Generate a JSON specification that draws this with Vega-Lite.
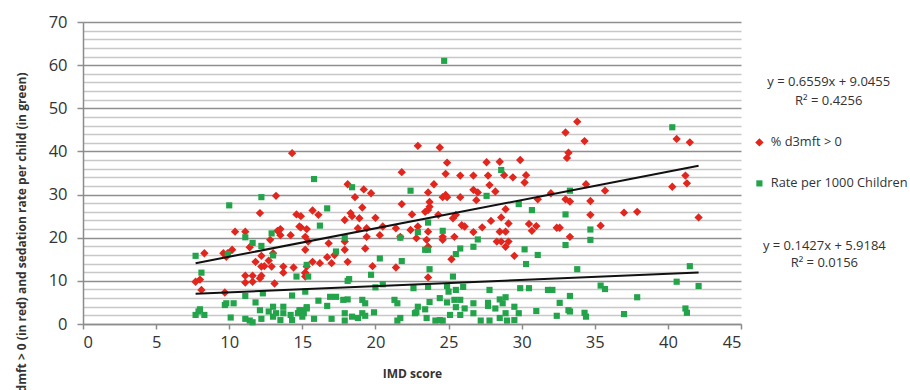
{
  "$schema": "https://vega.github.io/schema/vega-lite/v6.json",
  "width": 658,
  "height": 302,
  "autosize": "none",
  "padding": {"left": 83, "top": 22, "right": 169, "bottom": 66},
  "background": "white",
  "config": {"font": "Open Sans", "view": {"stroke": null}},
  "datasets": {
    "trend": [
      {"imd": 7.7, "value": 14.1, "series": "% d3mft > 0"},
      {"imd": 42.1, "value": 36.66, "series": "% d3mft > 0"},
      {"imd": 7.7, "value": 7.02, "series": "Rate per 1000 Children"},
      {"imd": 42.1, "value": 11.93, "series": "Rate per 1000 Children"}
    ],
    "pts": [
      {"imd":14.3,"value":39.6,"series":"% d3mft > 0"},{"imd":13.2,"value":29.7,"series":"% d3mft > 0"},{"imd":12.1,"value":25.7,"series":"% d3mft > 0"},{"imd":14.6,"value":25.4,"series":"% d3mft > 0"},{"imd":14.9,"value":25.0,"series":"% d3mft > 0"},{"imd":10.4,"value":21.4,"series":"% d3mft > 0"},{"imd":11.1,"value":21.4,"series":"% d3mft > 0"},{"imd":13.5,"value":22.0,"series":"% d3mft > 0"},{"imd":13.3,"value":21.6,"series":"% d3mft > 0"},{"imd":13.5,"value":20.6,"series":"% d3mft > 0"},{"imd":12.8,"value":19.5,"series":"% d3mft > 0"},{"imd":11.4,"value":17.8,"series":"% d3mft > 0"},{"imd":14.2,"value":20.6,"series":"% d3mft > 0"},{"imd":14.9,"value":22.4,"series":"% d3mft > 0"},{"imd":15.3,"value":22.0,"series":"% d3mft > 0"},{"imd":15.2,"value":17.2,"series":"% d3mft > 0"},{"imd":8.3,"value":16.4,"series":"% d3mft > 0"},{"imd":9.6,"value":16.4,"series":"% d3mft > 0"},{"imd":9.9,"value":16.4,"series":"% d3mft > 0"},{"imd":10.2,"value":17.2,"series":"% d3mft > 0"},{"imd":9.8,"value":15.6,"series":"% d3mft > 0"},{"imd":12.2,"value":15.8,"series":"% d3mft > 0"},{"imd":13.0,"value":16.4,"series":"% d3mft > 0"},{"imd":11.8,"value":14.4,"series":"% d3mft > 0"},{"imd":12.2,"value":13.3,"series":"% d3mft > 0"},{"imd":12.4,"value":13.4,"series":"% d3mft > 0"},{"imd":12.9,"value":13.3,"series":"% d3mft > 0"},{"imd":12.7,"value":14.7,"series":"% d3mft > 0"},{"imd":13.7,"value":13.3,"series":"% d3mft > 0"},{"imd":13.7,"value":11.9,"series":"% d3mft > 0"},{"imd":14.4,"value":13.1,"series":"% d3mft > 0"},{"imd":15.2,"value":11.8,"series":"% d3mft > 0"},{"imd":11.1,"value":11.2,"series":"% d3mft > 0"},{"imd":11.6,"value":11.2,"series":"% d3mft > 0"},{"imd":12.2,"value":11.2,"series":"% d3mft > 0"},{"imd":12.1,"value":10.6,"series":"% d3mft > 0"},{"imd":7.7,"value":9.8,"series":"% d3mft > 0"},{"imd":8.0,"value":10.3,"series":"% d3mft > 0"},{"imd":11.1,"value":9.6,"series":"% d3mft > 0"},{"imd":11.6,"value":9.8,"series":"% d3mft > 0"},{"imd":13.1,"value":9.4,"series":"% d3mft > 0"},{"imd":8.1,"value":7.9,"series":"% d3mft > 0"},{"imd":9.7,"value":7.3,"series":"% d3mft > 0"},
      {"imd":22.9,"value":41.3,"series":"% d3mft > 0"},{"imd":24.4,"value":40.9,"series":"% d3mft > 0"},{"imd":24.9,"value":37.4,"series":"% d3mft > 0"},{"imd":27.6,"value":37.5,"series":"% d3mft > 0"},{"imd":28.5,"value":37.6,"series":"% d3mft > 0"},{"imd":29.9,"value":38.0,"series":"% d3mft > 0"},{"imd":21.8,"value":35.2,"series":"% d3mft > 0"},{"imd":24.8,"value":34.8,"series":"% d3mft > 0"},{"imd":25.8,"value":34.4,"series":"% d3mft > 0"},{"imd":26.7,"value":34.4,"series":"% d3mft > 0"},{"imd":27.7,"value":34.4,"series":"% d3mft > 0"},{"imd":28.8,"value":34.5,"series":"% d3mft > 0"},{"imd":29.4,"value":34.0,"series":"% d3mft > 0"},{"imd":30.3,"value":34.5,"series":"% d3mft > 0"},{"imd":18.1,"value":32.4,"series":"% d3mft > 0"},{"imd":24.0,"value":32.4,"series":"% d3mft > 0"},{"imd":19.2,"value":31.2,"series":"% d3mft > 0"},{"imd":19.7,"value":30.3,"series":"% d3mft > 0"},{"imd":18.6,"value":29.4,"series":"% d3mft > 0"},{"imd":23.6,"value":30.5,"series":"% d3mft > 0"},{"imd":24.8,"value":29.9,"series":"% d3mft > 0"},{"imd":24.6,"value":29.4,"series":"% d3mft > 0"},{"imd":24.9,"value":29.4,"series":"% d3mft > 0"},{"imd":25.8,"value":29.4,"series":"% d3mft > 0"},{"imd":26.7,"value":31.1,"series":"% d3mft > 0"},{"imd":27.0,"value":30.5,"series":"% d3mft > 0"},{"imd":26.9,"value":28.7,"series":"% d3mft > 0"},{"imd":27.8,"value":32.2,"series":"% d3mft > 0"},{"imd":28.2,"value":30.7,"series":"% d3mft > 0"},{"imd":21.8,"value":27.8,"series":"% d3mft > 0"},{"imd":23.7,"value":28.3,"series":"% d3mft > 0"},{"imd":23.7,"value":27.2,"series":"% d3mft > 0"},{"imd":23.6,"value":26.4,"series":"% d3mft > 0"},{"imd":19.1,"value":27.0,"series":"% d3mft > 0"},{"imd":15.7,"value":26.3,"series":"% d3mft > 0"},{"imd":16.1,"value":25.3,"series":"% d3mft > 0"},{"imd":18.3,"value":25.7,"series":"% d3mft > 0"},{"imd":18.4,"value":25.0,"series":"% d3mft > 0"},{"imd":17.9,"value":24.1,"series":"% d3mft > 0"},{"imd":18.9,"value":24.5,"series":"% d3mft > 0"},{"imd":20.0,"value":24.6,"series":"% d3mft > 0"},{"imd":28.9,"value":26.6,"series":"% d3mft > 0"},{"imd":28.6,"value":24.7,"series":"% d3mft > 0"},{"imd":27.9,"value":23.9,"series":"% d3mft > 0"},{"imd":29.1,"value":23.3,"series":"% d3mft > 0"},{"imd":22.5,"value":25.4,"series":"% d3mft > 0"},{"imd":23.4,"value":26.0,"series":"% d3mft > 0"},{"imd":24.3,"value":25.3,"series":"% d3mft > 0"},{"imd":25.3,"value":24.5,"series":"% d3mft > 0"},{"imd":25.5,"value":25.3,"series":"% d3mft > 0"},{"imd":14.8,"value":22.6,"series":"% d3mft > 0"},{"imd":18.8,"value":22.2,"series":"% d3mft > 0"},{"imd":19.4,"value":22.2,"series":"% d3mft > 0"},{"imd":20.5,"value":22.6,"series":"% d3mft > 0"},{"imd":21.4,"value":22.2,"series":"% d3mft > 0"},{"imd":22.4,"value":21.8,"series":"% d3mft > 0"},{"imd":22.9,"value":22.6,"series":"% d3mft > 0"},{"imd":23.6,"value":21.4,"series":"% d3mft > 0"},{"imd":24.6,"value":20.2,"series":"% d3mft > 0"},{"imd":24.6,"value":19.5,"series":"% d3mft > 0"},{"imd":25.4,"value":20.2,"series":"% d3mft > 0"},{"imd":25.9,"value":22.9,"series":"% d3mft > 0"},{"imd":26.1,"value":22.6,"series":"% d3mft > 0"},{"imd":26.7,"value":21.3,"series":"% d3mft > 0"},{"imd":27.3,"value":22.4,"series":"% d3mft > 0"},{"imd":28.5,"value":21.4,"series":"% d3mft > 0"},{"imd":28.9,"value":21.4,"series":"% d3mft > 0"},{"imd":28.3,"value":19.1,"series":"% d3mft > 0"},{"imd":28.6,"value":19.1,"series":"% d3mft > 0"},{"imd":29.1,"value":19.1,"series":"% d3mft > 0"},{"imd":28.9,"value":17.9,"series":"% d3mft > 0"},{"imd":30.5,"value":23.2,"series":"% d3mft > 0"},{"imd":31.0,"value":22.7,"series":"% d3mft > 0"},{"imd":30.7,"value":21.6,"series":"% d3mft > 0"},{"imd":15.2,"value":20.2,"series":"% d3mft > 0"},{"imd":16.8,"value":18.7,"series":"% d3mft > 0"},{"imd":15.4,"value":19.1,"series":"% d3mft > 0"},{"imd":17.9,"value":19.1,"series":"% d3mft > 0"},{"imd":19.3,"value":17.5,"series":"% d3mft > 0"},{"imd":20.3,"value":20.6,"series":"% d3mft > 0"},{"imd":21.7,"value":20.2,"series":"% d3mft > 0"},{"imd":22.8,"value":19.9,"series":"% d3mft > 0"},{"imd":23.5,"value":19.5,"series":"% d3mft > 0"},{"imd":19.4,"value":20.2,"series":"% d3mft > 0"},{"imd":17.9,"value":17.2,"series":"% d3mft > 0"},{"imd":17.2,"value":16.0,"series":"% d3mft > 0"},{"imd":17.0,"value":14.1,"series":"% d3mft > 0"},{"imd":15.7,"value":14.4,"series":"% d3mft > 0"},{"imd":16.2,"value":14.1,"series":"% d3mft > 0"},{"imd":18.1,"value":14.4,"series":"% d3mft > 0"},{"imd":16.7,"value":15.5,"series":"% d3mft > 0"},{"imd":15.3,"value":13.3,"series":"% d3mft > 0"},{"imd":19.8,"value":13.4,"series":"% d3mft > 0"},{"imd":21.4,"value":13.1,"series":"% d3mft > 0"},{"imd":25.2,"value":15.0,"series":"% d3mft > 0"},{"imd":29.5,"value":15.8,"series":"% d3mft > 0"},{"imd":15.2,"value":11.9,"series":"% d3mft > 0"},{"imd":15.2,"value":11.0,"series":"% d3mft > 0"},{"imd":23.6,"value":10.8,"series":"% d3mft > 0"},{"imd":23.6,"value":17.9,"series":"% d3mft > 0"},
      {"imd":33.8,"value":46.9,"series":"% d3mft > 0"},{"imd":33.0,"value":44.4,"series":"% d3mft > 0"},{"imd":34.3,"value":42.4,"series":"% d3mft > 0"},{"imd":33.2,"value":39.7,"series":"% d3mft > 0"},{"imd":33.1,"value":38.5,"series":"% d3mft > 0"},{"imd":40.6,"value":42.9,"series":"% d3mft > 0"},{"imd":41.5,"value":42.1,"series":"% d3mft > 0"},{"imd":30.2,"value":32.8,"series":"% d3mft > 0"},{"imd":41.2,"value":34.4,"series":"% d3mft > 0"},{"imd":41.3,"value":32.6,"series":"% d3mft > 0"},{"imd":40.3,"value":31.8,"series":"% d3mft > 0"},{"imd":34.4,"value":32.4,"series":"% d3mft > 0"},{"imd":35.7,"value":30.9,"series":"% d3mft > 0"},{"imd":32.0,"value":30.3,"series":"% d3mft > 0"},{"imd":31.1,"value":28.9,"series":"% d3mft > 0"},{"imd":33.0,"value":28.9,"series":"% d3mft > 0"},{"imd":33.3,"value":28.4,"series":"% d3mft > 0"},{"imd":34.7,"value":28.5,"series":"% d3mft > 0"},{"imd":34.7,"value":25.3,"series":"% d3mft > 0"},{"imd":37.0,"value":25.8,"series":"% d3mft > 0"},{"imd":37.9,"value":26.0,"series":"% d3mft > 0"},{"imd":42.1,"value":24.7,"series":"% d3mft > 0"},{"imd":32.4,"value":22.3,"series":"% d3mft > 0"},{"imd":32.6,"value":22.3,"series":"% d3mft > 0"},{"imd":35.4,"value":22.8,"series":"% d3mft > 0"},{"imd":33.3,"value":20.2,"series":"% d3mft > 0"},
      {"imd":24.7,"value":61.0,"series":"Rate per 1000 Children"},{"imd":12.2,"value":29.4,"series":"Rate per 1000 Children"},{"imd":10.0,"value":27.5,"series":"Rate per 1000 Children"},{"imd":11.1,"value":20.1,"series":"Rate per 1000 Children"},{"imd":11.6,"value":18.8,"series":"Rate per 1000 Children"},{"imd":12.2,"value":18.1,"series":"Rate per 1000 Children"},{"imd":12.9,"value":21.0,"series":"Rate per 1000 Children"},{"imd":13.0,"value":15.9,"series":"Rate per 1000 Children"},{"imd":7.7,"value":15.8,"series":"Rate per 1000 Children"},{"imd":9.9,"value":16.2,"series":"Rate per 1000 Children"},{"imd":8.1,"value":11.9,"series":"Rate per 1000 Children"},{"imd":14.6,"value":11.0,"series":"Rate per 1000 Children"},{"imd":15.3,"value":13.7,"series":"Rate per 1000 Children"},{"imd":11.1,"value":6.5,"series":"Rate per 1000 Children"},{"imd":12.3,"value":7.1,"series":"Rate per 1000 Children"},{"imd":14.3,"value":6.6,"series":"Rate per 1000 Children"},{"imd":15.2,"value":7.5,"series":"Rate per 1000 Children"},{"imd":9.7,"value":4.4,"series":"Rate per 1000 Children"},{"imd":9.8,"value":4.8,"series":"Rate per 1000 Children"},{"imd":10.3,"value":4.8,"series":"Rate per 1000 Children"},{"imd":11.8,"value":5.0,"series":"Rate per 1000 Children"},{"imd":8.0,"value":3.4,"series":"Rate per 1000 Children"},{"imd":7.7,"value":2.1,"series":"Rate per 1000 Children"},{"imd":8.3,"value":2.1,"series":"Rate per 1000 Children"},{"imd":7.9,"value":2.9,"series":"Rate per 1000 Children"},{"imd":10.1,"value":1.5,"series":"Rate per 1000 Children"},{"imd":11.1,"value":1.2,"series":"Rate per 1000 Children"},{"imd":11.4,"value":0.8,"series":"Rate per 1000 Children"},{"imd":11.6,"value":0.4,"series":"Rate per 1000 Children"},{"imd":12.2,"value":1.2,"series":"Rate per 1000 Children"},{"imd":12.1,"value":3.2,"series":"Rate per 1000 Children"},{"imd":12.7,"value":2.9,"series":"Rate per 1000 Children"},{"imd":13.0,"value":4.0,"series":"Rate per 1000 Children"},{"imd":13.2,"value":2.5,"series":"Rate per 1000 Children"},{"imd":13.0,"value":1.7,"series":"Rate per 1000 Children"},{"imd":13.7,"value":4.0,"series":"Rate per 1000 Children"},{"imd":13.7,"value":2.5,"series":"Rate per 1000 Children"},{"imd":13.5,"value":0.9,"series":"Rate per 1000 Children"},{"imd":14.2,"value":2.1,"series":"Rate per 1000 Children"},{"imd":14.3,"value":0.9,"series":"Rate per 1000 Children"},{"imd":14.7,"value":2.5,"series":"Rate per 1000 Children"},{"imd":14.9,"value":3.2,"series":"Rate per 1000 Children"},{"imd":15.3,"value":3.6,"series":"Rate per 1000 Children"},{"imd":15.0,"value":1.7,"series":"Rate per 1000 Children"},
      {"imd":15.8,"value":33.6,"series":"Rate per 1000 Children"},{"imd":18.4,"value":31.7,"series":"Rate per 1000 Children"},{"imd":22.4,"value":30.9,"series":"Rate per 1000 Children"},{"imd":28.6,"value":35.7,"series":"Rate per 1000 Children"},{"imd":27.6,"value":29.7,"series":"Rate per 1000 Children"},{"imd":16.7,"value":26.8,"series":"Rate per 1000 Children"},{"imd":29.8,"value":27.8,"series":"Rate per 1000 Children"},{"imd":30.7,"value":26.4,"series":"Rate per 1000 Children"},{"imd":16.2,"value":22.8,"series":"Rate per 1000 Children"},{"imd":23.6,"value":23.5,"series":"Rate per 1000 Children"},{"imd":24.6,"value":21.6,"series":"Rate per 1000 Children"},{"imd":22.9,"value":21.3,"series":"Rate per 1000 Children"},{"imd":21.7,"value":20.0,"series":"Rate per 1000 Children"},{"imd":17.9,"value":20.0,"series":"Rate per 1000 Children"},{"imd":23.4,"value":17.2,"series":"Rate per 1000 Children"},{"imd":23.6,"value":17.2,"series":"Rate per 1000 Children"},{"imd":25.8,"value":17.5,"series":"Rate per 1000 Children"},{"imd":25.5,"value":16.2,"series":"Rate per 1000 Children"},{"imd":26.7,"value":17.9,"series":"Rate per 1000 Children"},{"imd":27.0,"value":19.6,"series":"Rate per 1000 Children"},{"imd":30.2,"value":17.3,"series":"Rate per 1000 Children"},{"imd":31.1,"value":16.0,"series":"Rate per 1000 Children"},{"imd":30.3,"value":13.9,"series":"Rate per 1000 Children"},{"imd":17.3,"value":16.8,"series":"Rate per 1000 Children"},{"imd":20.3,"value":15.2,"series":"Rate per 1000 Children"},{"imd":21.8,"value":14.6,"series":"Rate per 1000 Children"},{"imd":15.4,"value":11.0,"series":"Rate per 1000 Children"},{"imd":18.1,"value":10.0,"series":"Rate per 1000 Children"},{"imd":18.2,"value":10.4,"series":"Rate per 1000 Children"},{"imd":19.7,"value":11.4,"series":"Rate per 1000 Children"},{"imd":23.7,"value":12.7,"series":"Rate per 1000 Children"},{"imd":25.3,"value":11.0,"series":"Rate per 1000 Children"},{"imd":20.5,"value":9.2,"series":"Rate per 1000 Children"},{"imd":20.0,"value":8.5,"series":"Rate per 1000 Children"},{"imd":22.6,"value":8.3,"series":"Rate per 1000 Children"},{"imd":23.6,"value":8.6,"series":"Rate per 1000 Children"},{"imd":24.9,"value":8.8,"series":"Rate per 1000 Children"},{"imd":26.0,"value":8.6,"series":"Rate per 1000 Children"},{"imd":27.8,"value":7.9,"series":"Rate per 1000 Children"},{"imd":29.9,"value":8.3,"series":"Rate per 1000 Children"},{"imd":30.5,"value":8.3,"series":"Rate per 1000 Children"},{"imd":31.8,"value":7.9,"series":"Rate per 1000 Children"},{"imd":16.1,"value":5.4,"series":"Rate per 1000 Children"},{"imd":16.9,"value":6.3,"series":"Rate per 1000 Children"},{"imd":17.3,"value":6.3,"series":"Rate per 1000 Children"},{"imd":17.8,"value":5.6,"series":"Rate per 1000 Children"},{"imd":18.1,"value":5.7,"series":"Rate per 1000 Children"},{"imd":19.1,"value":5.6,"series":"Rate per 1000 Children"},{"imd":19.3,"value":4.8,"series":"Rate per 1000 Children"},{"imd":21.3,"value":5.6,"series":"Rate per 1000 Children"},{"imd":21.5,"value":4.8,"series":"Rate per 1000 Children"},{"imd":22.9,"value":4.0,"series":"Rate per 1000 Children"},{"imd":23.7,"value":5.1,"series":"Rate per 1000 Children"},{"imd":24.9,"value":5.0,"series":"Rate per 1000 Children"},{"imd":25.4,"value":5.6,"series":"Rate per 1000 Children"},{"imd":25.8,"value":5.6,"series":"Rate per 1000 Children"},{"imd":26.7,"value":4.8,"series":"Rate per 1000 Children"},{"imd":27.7,"value":4.9,"series":"Rate per 1000 Children"},{"imd":28.5,"value":5.7,"series":"Rate per 1000 Children"},{"imd":28.9,"value":6.2,"series":"Rate per 1000 Children"},{"imd":28.7,"value":4.8,"series":"Rate per 1000 Children"},{"imd":29.8,"value":2.5,"series":"Rate per 1000 Children"},{"imd":25.5,"value":3.9,"series":"Rate per 1000 Children"},{"imd":26.1,"value":3.6,"series":"Rate per 1000 Children"},{"imd":14.8,"value":3.2,"series":"Rate per 1000 Children"},{"imd":15.1,"value":2.5,"series":"Rate per 1000 Children"},{"imd":15.3,"value":3.9,"series":"Rate per 1000 Children"},{"imd":15.8,"value":1.2,"series":"Rate per 1000 Children"},{"imd":16.7,"value":4.2,"series":"Rate per 1000 Children"},{"imd":17.0,"value":1.2,"series":"Rate per 1000 Children"},{"imd":17.9,"value":2.5,"series":"Rate per 1000 Children"},{"imd":17.9,"value":0.8,"series":"Rate per 1000 Children"},{"imd":18.4,"value":1.7,"series":"Rate per 1000 Children"},{"imd":18.8,"value":1.4,"series":"Rate per 1000 Children"},{"imd":19.1,"value":2.5,"series":"Rate per 1000 Children"},{"imd":19.9,"value":2.7,"series":"Rate per 1000 Children"},{"imd":21.5,"value":0.8,"series":"Rate per 1000 Children"},{"imd":21.7,"value":1.4,"series":"Rate per 1000 Children"},{"imd":22.7,"value":2.5,"series":"Rate per 1000 Children"},{"imd":23.5,"value":1.4,"series":"Rate per 1000 Children"},{"imd":24.1,"value":0.8,"series":"Rate per 1000 Children"},{"imd":24.4,"value":0.9,"series":"Rate per 1000 Children"},{"imd":24.6,"value":0.8,"series":"Rate per 1000 Children"},{"imd":25.1,"value":2.1,"series":"Rate per 1000 Children"},{"imd":25.8,"value":2.1,"series":"Rate per 1000 Children"},{"imd":26.7,"value":2.5,"series":"Rate per 1000 Children"},{"imd":27.2,"value":0.8,"series":"Rate per 1000 Children"},{"imd":27.8,"value":0.8,"series":"Rate per 1000 Children"},{"imd":28.2,"value":3.6,"series":"Rate per 1000 Children"},{"imd":28.5,"value":1.4,"series":"Rate per 1000 Children"},{"imd":29.0,"value":0.8,"series":"Rate per 1000 Children"},{"imd":29.5,"value":0.9,"series":"Rate per 1000 Children"},{"imd":31.0,"value":3.0,"series":"Rate per 1000 Children"},{"imd":24.4,"value":6.0,"series":"Rate per 1000 Children"},{"imd":25.0,"value":7.5,"series":"Rate per 1000 Children"},{"imd":25.5,"value":7.9,"series":"Rate per 1000 Children"},{"imd":23.4,"value":3.4,"series":"Rate per 1000 Children"},{"imd":22.8,"value":2.7,"series":"Rate per 1000 Children"},{"imd":19.3,"value":1.9,"series":"Rate per 1000 Children"},{"imd":27.7,"value":4.2,"series":"Rate per 1000 Children"},{"imd":29.5,"value":4.0,"series":"Rate per 1000 Children"},{"imd":28.9,"value":2.5,"series":"Rate per 1000 Children"},
      {"imd":33.3,"value":30.9,"series":"Rate per 1000 Children"},{"imd":33.0,"value":25.4,"series":"Rate per 1000 Children"},{"imd":34.7,"value":21.9,"series":"Rate per 1000 Children"},{"imd":34.7,"value":19.5,"series":"Rate per 1000 Children"},{"imd":33.0,"value":18.3,"series":"Rate per 1000 Children"},{"imd":33.8,"value":12.7,"series":"Rate per 1000 Children"},{"imd":41.5,"value":13.4,"series":"Rate per 1000 Children"},{"imd":40.6,"value":9.8,"series":"Rate per 1000 Children"},{"imd":42.1,"value":8.8,"series":"Rate per 1000 Children"},{"imd":35.4,"value":8.9,"series":"Rate per 1000 Children"},{"imd":35.7,"value":8.1,"series":"Rate per 1000 Children"},{"imd":32.1,"value":7.9,"series":"Rate per 1000 Children"},{"imd":33.3,"value":6.5,"series":"Rate per 1000 Children"},{"imd":37.9,"value":6.2,"series":"Rate per 1000 Children"},{"imd":32.6,"value":4.9,"series":"Rate per 1000 Children"},{"imd":33.2,"value":3.2,"series":"Rate per 1000 Children"},{"imd":33.3,"value":2.9,"series":"Rate per 1000 Children"},{"imd":32.4,"value":1.9,"series":"Rate per 1000 Children"},{"imd":34.3,"value":2.6,"series":"Rate per 1000 Children"},{"imd":34.4,"value":1.7,"series":"Rate per 1000 Children"},{"imd":37.0,"value":2.3,"series":"Rate per 1000 Children"},{"imd":41.2,"value":3.6,"series":"Rate per 1000 Children"},{"imd":41.3,"value":2.6,"series":"Rate per 1000 Children"},{"imd":40.3,"value":45.6,"series":"Rate per 1000 Children"}
    ]
  },
  "layer": [
    {
      "data": {"name": "pts"},
      "mark": {"type": "point", "filled": true, "opacity": 1},
      "encoding": {
        "x": {"field": "imd", "type": "quantitative",
          "scale": {"domain": [0, 45], "nice": false, "zero": false},
          "axis": {"title": "IMD score", "values": [0,5,10,15,20,25,30,35,40,45], "tickCount": 100, "format": "d", "grid": false,
            "domainColor": "#8c8c8c", "domainWidth": 1.5, "tickColor": "#8c8c8c", "tickSize": 5, "tickWidth": 1.5,
            "labelFontSize": 16.5, "labelColor": "#333333", "labelPadding": 5, "labelFont": "Open Sans",
            "titleFontSize": 12, "titleFontWeight": "bold", "titleColor": "#333333", "titlePadding": 18}},
        "y": {"field": "value", "type": "quantitative",
          "scale": {"domain": [0, 70], "nice": false},
          "axis": {"title": "% dmft > 0 (in red)  and sedation rate per  child (in green)",
            "values": [0,2,4,6,8,10,12,14,16,18,20,22,24,26,28,30,32,34,36,38,40,42,44,46,48,50,52,54,56,58,60,62,64,66,68,70],
            "tickCount": 100,
            "format": "d",
            "labelExpr": "datum.value % 10 === 0 ? datum.label : ''",
            "labelOverlap": false,
            "grid": true,
            "gridColor": {"condition": {"test": "datum.value % 10 === 0", "value": "#8f8f8f"}, "value": "#c8c8c8"},
            "gridWidth": 1.5,
            "tickOpacity": {"condition": {"test": "datum.value % 10 === 0", "value": 1}, "value": 0},
            "tickColor": "#8f8f8f", "tickSize": 6, "tickWidth": 1.5,
            "domainColor": "#8c8c8c", "domainWidth": 1.5,
            "labelFontSize": 16.5, "labelColor": "#333333", "labelPadding": 10, "labelFont": "Open Sans",
            "titleFontSize": 12, "titleFontWeight": "bold", "titleColor": "#333333",
            "titleAnchor": "end", "titleX": -55, "titleY": 50}},
        "color": {"field": "series", "type": "nominal",
          "scale": {"domain": ["% d3mft > 0", "Rate per 1000 Children"], "range": ["#e2261d", "#23a44a"]},
          "legend": {"title": null, "orient": "none", "legendX": 670, "legendY": 114,
            "labelFontSize": 12.8, "labelColor": "#333333", "labelFont": "Open Sans", "rowPadding": 27, "labelOffset": 5, "symbolSize": 34}},
        "shape": {"field": "series", "type": "nominal",
          "scale": {"domain": ["% d3mft > 0", "Rate per 1000 Children"], "range": ["diamond", "square"]}},
        "size": {"field": "series", "type": "nominal", "scale": {"domain": ["% d3mft > 0", "Rate per 1000 Children"], "range": [70, 38]}, "legend": null}
      }
    },
    {
      "data": {"name": "trend"},
      "mark": {"type": "line", "color": "#111111", "strokeWidth": 2},
      "encoding": {
        "x": {"field": "imd", "type": "quantitative"},
        "y": {"field": "value", "type": "quantitative"},
        "detail": {"field": "series"}
      }
    },
    {
      "data": {"values": [{}]},
      "mark": {"type": "text", "fontSize": 13, "color": "#333333", "font": "Open Sans", "align": "center", "baseline": "middle"},
      "encoding": {"x": {"datum": 51.0}, "y": {"datum": 56.0}, "text": {"value": "y = 0.6559x + 9.0455"}}
    },
    {
      "data": {"values": [{}]},
      "mark": {"type": "text", "fontSize": 13, "color": "#333333", "font": "Open Sans", "align": "center", "baseline": "middle"},
      "encoding": {"x": {"datum": 51.0}, "y": {"datum": 51.7}, "text": {"value": "R² = 0.4256"}}
    },
    {
      "data": {"values": [{}]},
      "mark": {"type": "text", "fontSize": 13, "color": "#333333", "font": "Open Sans", "align": "center", "baseline": "middle"},
      "encoding": {"x": {"datum": 50.7}, "y": {"datum": 18.1}, "text": {"value": "y = 0.1427x + 5.9184"}}
    },
    {
      "data": {"values": [{}]},
      "mark": {"type": "text", "fontSize": 13, "color": "#333333", "font": "Open Sans", "align": "center", "baseline": "middle"},
      "encoding": {"x": {"datum": 50.7}, "y": {"datum": 14.1}, "text": {"value": "R² = 0.0156"}}
    }
  ]
}
